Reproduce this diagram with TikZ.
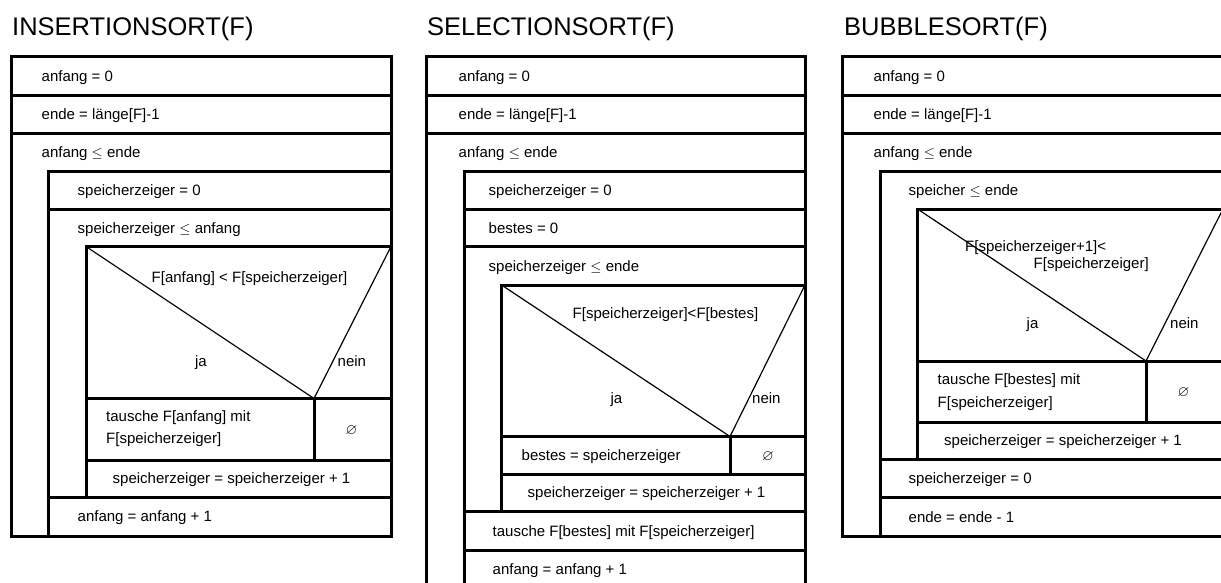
\documentclass[tikz,border=0pt]{standalone}
\usepackage{amsmath,amssymb}
\usepackage{fontspec}
\setmainfont{Liberation Sans}
\usepackage{tikz}
\usepackage{xcolor}

\begin{document}
\begin{tikzpicture}[x=1pt, y=-1pt, line join=miter,
  frame/.style={line width=3pt},
  diag/.style={line width=1.2pt},
  cell/.style={anchor=west, inner sep=0pt, text height=10.7pt, text depth=0pt, font=\fontsize{15pt}{18pt}\selectfont},
  mid/.style={cell, anchor=center},
  title/.style={anchor=base west, inner sep=0pt, font=\fontsize{25.5pt}{30pt}\selectfont}]
\useasboundingbox (0,0) rectangle (1221,583);
\clip (0,0) rectangle (1221,583);

% insertion sort
\node[title] (ins) at (12,35.5) {INSERTIONSORT(F)};
\draw[frame] (11,57) rectangle (391,536);
\draw[frame] (11,96) -- (391,96) (11,133.5) -- (391,133.5);
\draw[frame] (391,171.5) -| (48.5,536);
\draw[frame] (48.5,209.5) -- (391,209.5);
\draw[frame] (391,246.5) -| (86,497);
\draw[frame] (48.5,497) -- (391,497);
\draw[frame] (86,398.5) -- (391,398.5) (314,398.5) -- (314,460) (86,460) -- (391,460);
\draw[diag] (86,246.5) -- (314,398.5) -- (391,246.5);
\node[cell] (ins-a) at (41.5,76.5) {anfang = 0};
\node[cell] (ins-b) at (41.5,114.5) {ende = länge[F]-1};
\node[cell] (ins-c) at (41.5,152.5) {anfang $\leq$ ende};
\node[cell] (ins-d) at (77.5,190.5) {speicherzeiger = 0};
\node[cell] (ins-e) at (77.5,228) {speicherzeiger $\leq$ anfang};
\node[cell] (ins-if) at (151.5,277) {F[anfang] < F[speicherzeiger]};
\node[mid] (ins-ja) at (201,361) {ja};
\node[cell] (ins-nein) at (337.5,361) {nein};
\node[cell] (ins-t1) at (106,416.5) {tausche F[anfang] mit};
\node[cell] (ins-t2) at (106,438) {F[speicherzeiger]};
\node[mid] (ins-leer) at (351.5,429) {$\varnothing$};
\node[cell] (ins-f) at (112.5,478) {speicherzeiger = speicherzeiger + 1};
\node[cell] (ins-g) at (77.5,516.5) {anfang = anfang + 1};

% selection sort
\node[title] (sel) at (427,35.5) {SELECTIONSORT(F)};
\draw[frame] (426,600) -- (426,57) -- (805,57) -- (805,600);
\draw[frame] (426,96) -- (805,96) (426,133.5) -- (805,133.5);
\draw[frame] (805,171.5) -| (464,600);
\draw[frame] (464,209.5) -- (805,209.5) (464,246.5) -- (805,246.5);
\draw[frame] (805,285) -| (501.5,511);
\draw[frame] (501.5,436.5) -- (805,436.5) (730,436.5) -- (730,474.5) (501.5,474.5) -- (805,474.5);
\draw[frame] (464,511) -- (805,511) (464,550.5) -- (805,550.5);
\draw[diag] (501.5,285) -- (730,436.5) -- (805,285);
\node[cell] (sel-a) at (458.5,76.5) {anfang = 0};
\node[cell] (sel-b) at (458.5,114.5) {ende = länge[F]-1};
\node[cell] (sel-c) at (458.5,152.5) {anfang $\leq$ ende};
\node[cell] (sel-d) at (488.5,190.5) {speicherzeiger = 0};
\node[cell] (sel-e) at (488.5,228) {bestes = 0};
\node[cell] (sel-f) at (488.5,266) {speicherzeiger $\leq$ ende};
\node[cell] (sel-if) at (572.5,313) {F[speicherzeiger]<F[bestes]};
\node[mid] (sel-ja) at (616.5,398) {ja};
\node[cell] (sel-nein) at (752,398) {nein};
\node[cell] (sel-g) at (521.5,455.5) {bestes = speicherzeiger};
\node[mid] (sel-leer) at (768,455.5) {$\varnothing$};
\node[cell] (sel-h) at (527.5,492.5) {speicherzeiger = speicherzeiger + 1};
\node[cell] (sel-i) at (492.5,531) {tausche F[bestes] mit F[speicherzeiger]};
\node[cell] (sel-j) at (492.5,569) {anfang = anfang + 1};

% bubble sort
\node[title] (bub) at (844,35.5) {BUBBLESORT(F)};
\draw[frame] (842,57) rectangle (1223,536);
\draw[frame] (842,96) -- (1223,96) (842,133.5) -- (1223,133.5);
\draw[frame] (1223,171.5) -| (880,536);
\draw[frame] (1223,209) -| (917.5,459.5);
\draw[frame] (917.5,361) -- (1223,361) (1146,361) -- (1146,422.5) (917.5,422.5) -- (1223,422.5);
\draw[frame] (880,459.5) -- (1223,459.5) (880,497.5) -- (1223,497.5);
\draw[diag] (917.5,209) -- (1146,361) -- (1223,209);
\node[cell] (bub-a) at (873.5,76.5) {anfang = 0};
\node[cell] (bub-b) at (873.5,114.5) {ende = länge[F]-1};
\node[cell] (bub-c) at (873.5,152.5) {anfang $\leq$ ende};
\node[cell] (bub-d) at (908.5,190.5) {speicher $\leq$ ende};
\node[cell] (bub-if1) at (965,246.5) {F[speicherzeiger+1]<};
\node[cell] (bub-if2) at (1033.5,263.5) {F[speicherzeiger]};
\node[mid] (bub-ja) at (1032.5,323) {ja};
\node[cell] (bub-nein) at (1170,323) {nein};
\node[cell] (bub-t1) at (937.5,379) {tausche F[bestes] mit};
\node[cell] (bub-t2) at (937.5,402.5) {F[speicherzeiger]};
\node[mid] (bub-leer) at (1183.5,391.5) {$\varnothing$};
\node[cell] (bub-e) at (944,440.5) {speicherzeiger = speicherzeiger + 1};
\node[cell] (bub-f) at (908.5,478.5) {speicherzeiger = 0};
\node[cell] (bub-g) at (908.5,517) {ende = ende - 1};
\end{tikzpicture}
\end{document}
